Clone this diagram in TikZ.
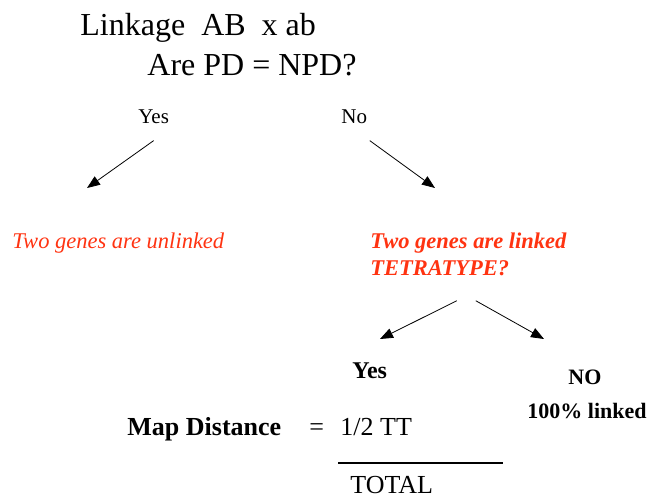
\documentclass[tikz,border=0pt]{standalone}
\usepackage{fontspec}
\setmainfont{Liberation Serif}
\usepackage{tikz}
\usetikzlibrary{arrows.meta}
\definecolor{linkred}{HTML}{FF3311}
\newcommand{\fsz}[1]{\fontsize{#1}{#1}\selectfont}

\begin{document}
\begin{tikzpicture}[x=1pt, y=-1pt, >={Triangle[length=13pt, width=10pt]}, line width=0.8pt,
  lbl/.style={inner sep=0pt, anchor=base west},
  redlbl/.style={lbl, text=linkred, font=\fsz{22.5}\itshape},
  redbold/.style={lbl, text=linkred, font=\fsz{22.5}\bfseries\itshape}]
\useasboundingbox (0,0) rectangle (650,498);
\node[lbl, font=\fsz{32}] (cross) at (80,35) {Linkage\ \ AB\ \ x ab};
\node[lbl, font=\fsz{32}] (pdnpd) at (147,75) {Are PD = NPD?};
\node[lbl, font=\fsz{21}] (yes) at (138,123) {Yes};
\node[lbl, font=\fsz{21}] (no) at (341,123) {No};
\node[redlbl] (unlinked) at (12,248) {Two genes are unlinked};
\node[redbold] (linked) at (370,248) {Two genes are linked};
\node[redbold] (tetra) at (370,275) {TETRATYPE?};
\node[lbl, font=\fsz{24}\bfseries] (ttyes) at (352,378) {Yes};
\node[lbl, font=\fsz{22}\bfseries] (ttno) at (568,384) {NO};
\node[lbl, font=\fsz{22}\bfseries] (fulllink) at (527,418) {100\% linked};
\node[lbl, font=\fsz{26}\bfseries] (mapdist) at (127,435) {Map Distance};
\node[lbl, font=\fsz{26}] (eq) at (309,435) {=};
\node[lbl, font=\fsz{26}] (halftt) at (340,435) {1/2 TT};
\node[lbl, font=\fsz{26}] (total) at (350,493) {TOTAL};
% arrow tips
\coordinate (unlinkedtip) at (87,188);
\coordinate (linkedtip) at (435,188);
\coordinate (ttyestip) at (380,339);
\coordinate (ttnotip) at (544,339);
\draw[->] ([yshift=-17pt]yes.south) -- (unlinkedtip);
\draw[->] ([xshift=15.5pt, yshift=-17pt]no.south) -- (linkedtip);
\draw[->] ([xshift=17pt, yshift=-25pt]tetra.south) -- (ttyestip);
\draw[->] ([xshift=36pt, yshift=-25pt]tetra.south) -- (ttnotip);
% fraction bar
\coordinate (barl) at (338,463);
\coordinate (barr) at (503,463);
\draw[line width=1.1pt] (barl) -- (barr);
\end{tikzpicture}
\end{document}
